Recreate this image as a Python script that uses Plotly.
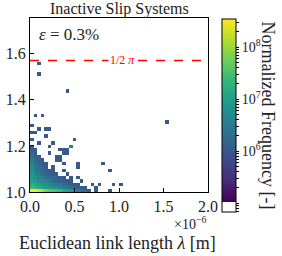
import numpy as np
import plotly.graph_objects as go
from plotly.colors import sequential

# ---- data (normalized frequency, in units of 1e6) ----
x_bin_width = 0.04e-6      # link length bin width [m]
y_bin_start = 0.995
y_bin_width = 0.015
n_xbins = 50
n_ybins = 40

# rows = y bins (from bottom), columns = x bins (from 0)
freq_e6 = [
    [330, 300, 200, 120, 60, 45, 35, 30, 25, 12, 10, 8, 6, 3, 2, 1.5, 1, 0, 1, 0, 0, 0, 1],
    [25, 20, 15, 12, 10, 8, 6, 5, 4, 3, 2.5, 2, 1.5, 1.2, 1, 1, 0, 0, 1],
    [15, 12, 10, 8, 6, 5, 4, 3, 2.5, 2, 1.5, 1.2, 1, 1, 0, 0, 0, 1, 0, 1, 0, 0, 0, 1, 0, 1],
    [10, 8, 6, 5, 4, 3, 2, 1.5, 1.5, 1.2, 1, 1, 0, 0, 1],
    [8, 6, 4, 3, 2, 2, 1.5, 1.2, 1.2, 1, 0, 1, 0, 1],
    [8, 4, 3, 2, 1.5, 1.2, 1, 1, 0, 0, 1],
    [6, 3, 2, 1.5, 1.2, 1, 1, 0, 0, 1, 0, 0, 0, 0, 0, 0, 0, 0, 0, 0, 0, 0, 1],
    [5, 2.5, 2, 1.5, 1, 0, 1, 0, 0, 0, 0, 0, 0, 1],
    [4, 2, 1.5, 1, 1, 0, 0, 0, 0, 1, 0, 0, 0, 1, 0, 0, 0, 0, 0, 0, 1],
    [3, 1.5, 1.2, 1, 0, 0, 0, 1, 1],
    [2, 1.2, 1, 0, 0, 0, 0, 1, 1],
    [1.5, 1, 0, 0, 0, 1, 0, 0, 0, 1, 1],
    [1.2, 1, 0, 0, 0, 0, 0, 0, 1, 1, 1],
    [1, 0, 0, 0, 0, 1, 0, 0, 0, 0, 0, 4],
    [0, 0, 1, 0, 0, 0, 1],
    [1, 0, 0, 0, 0, 0, 0, 0, 0, 0, 0, 0, 1],
    [0, 0, 0, 0, 1],
    [1, 1],
    [0, 0, 1, 0, 1, 1],
    [1],
    [],
    [],
    [0, 1, 0, 1],
]
outlier_ix = [38, 10, 2, 2]
outlier_iy = [20, 29, 34, 37]
outlier_freq_e6 = [1, 1, 1, 1]

x_tick_vals = [0, 0.5e-6, 1.0e-6, 1.5e-6, 2.0e-6]
x_tick_text = ["0.0", "0.5", "1.0", "1.5", "2.0"]
y_tick_vals = [1.0, 1.2, 1.4, 1.6]
y_tick_text = ["1.0", "1.2", "1.4", "1.6"]
c_major = [6, 7, 8]
c_major_text = ["10<sup>6</sup>", "10<sup>7</sup>", "10<sup>8</sup>"]

zmin, zmax = 4.83, 8.54

# ---- build grid ----
z = np.full((n_ybins, n_xbins), np.nan)
for j, row in enumerate(freq_e6):
    for i, v in enumerate(row):
        if v > 0:
            z[j, i] = np.log10(v * 1e6)
for i, j, v in zip(outlier_ix, outlier_iy, outlier_freq_e6):
    z[j, i] = np.log10(v * 1e6)

xc = (np.arange(n_xbins) + 0.5) * x_bin_width
yc = y_bin_start + (np.arange(n_ybins) + 0.5) * y_bin_width

# colorscale: white band at bottom then viridis
vir = sequential.Viridis
w = 0.051
cs = [[0, "white"], [w, "white"]]
for k, c in enumerate(vir):
    cs.append([w + (1 - w) * k / (len(vir) - 1), c])

# colorbar ticks (major + minor)
cvals, ctext = [], []
for dec in range(4, 9):
    for m in range(1, 10):
        v = np.log10(m * 10 ** dec)
        if zmin <= v <= zmax:
            cvals.append(v)
            if m == 1 and dec in c_major:
                ctext.append(c_major_text[c_major.index(dec)])
            else:
                ctext.append("")

FONT = "Liberation Serif"

fig = go.Figure()
fig.add_trace(go.Heatmap(
    x=xc, y=yc, z=z, zmin=zmin, zmax=zmax, colorscale=cs,
    hoverinfo="skip",
    colorbar=dict(
        x=1.079, xanchor="left", xref="paper", xpad=0, ypad=0,
        y=0.44, yanchor="middle", len=1.109, lenmode="fraction",
        thickness=14, outlinewidth=1, outlinecolor="black",
        tickvals=cvals, ticktext=ctext, ticks="outside", ticklen=3,
        tickcolor="black", tickfont=dict(family=FONT, size=14, color="#222"),
    ),
))

fig.add_shape(type="line", xref="paper", x0=0, x1=1, yref="y",
              y0=np.pi / 2, y1=np.pi / 2,
              line=dict(color="red", width=1.6, dash="dash"))

fig.update_layout(
    width=282, height=256,
    margin=dict(l=30, r=74, t=18, b=64, autoexpand=False),
    paper_bgcolor="white", plot_bgcolor="white",
    font=dict(family=FONT, size=14, color="#222"),
    showlegend=False,
    xaxis=dict(range=[0, 2e-6], tickvals=x_tick_vals, ticktext=x_tick_text,
               ticks="inside", ticklen=4, tickcolor="black", automargin=False,
               showline=True, linecolor="black", linewidth=1, mirror=True,
               showgrid=False, zeroline=False,
               tickfont=dict(family=FONT, size=16)),
    yaxis=dict(range=[1.0, 1.755], tickvals=y_tick_vals, ticktext=y_tick_text,
               ticks="inside", ticklen=4, tickcolor="black", automargin=False,
               showline=True, linecolor="black", linewidth=1, mirror=True,
               showgrid=False, zeroline=False,
               tickfont=dict(family=FONT, size=16)),
    annotations=[
        dict(text="Inactive Slip Systems", x=0.5, y=1.0, xref="paper", yref="paper",
             xanchor="center", yanchor="bottom", yshift=-2, showarrow=False,
             font=dict(family=FONT, size=16)),
        dict(text="<i>ε</i> = 0.3%", x=0.04, y=0.97, xref="paper", yref="paper",
             xanchor="left", yanchor="top", showarrow=False,
             font=dict(family=FONT, size=17)),
        dict(text="1/2 <i>π</i>", x=0.52, y=np.pi / 2, xref="paper", yref="y",
             xanchor="center", yanchor="middle", showarrow=False,
             bgcolor="white", borderpad=1,
             font=dict(family=FONT, size=12, color="red")),
        dict(text="×10<sup>−6</sup>", x=1.0, y=-0.115, xref="paper", yref="paper",
             xanchor="right", yanchor="top", showarrow=False,
             font=dict(family=FONT, size=14)),
        dict(text="Euclidean link length <i>λ</i> [m]", x=0.49, y=-0.293,
             xref="paper", yref="paper", xanchor="center", yanchor="middle",
             showarrow=False, font=dict(family=FONT, size=18)),
        dict(text="Normalized Frequency [-]", x=1.337, y=0.44,
             xref="paper", yref="paper", xanchor="center", yanchor="middle",
             textangle=90, showarrow=False, font=dict(family=FONT, size=18)),
    ],
)

fig.write_html("out.html", config={"displayModeBar": False},
               post_script="document.body.style.margin='0px';document.body.style.overflow='hidden';")
